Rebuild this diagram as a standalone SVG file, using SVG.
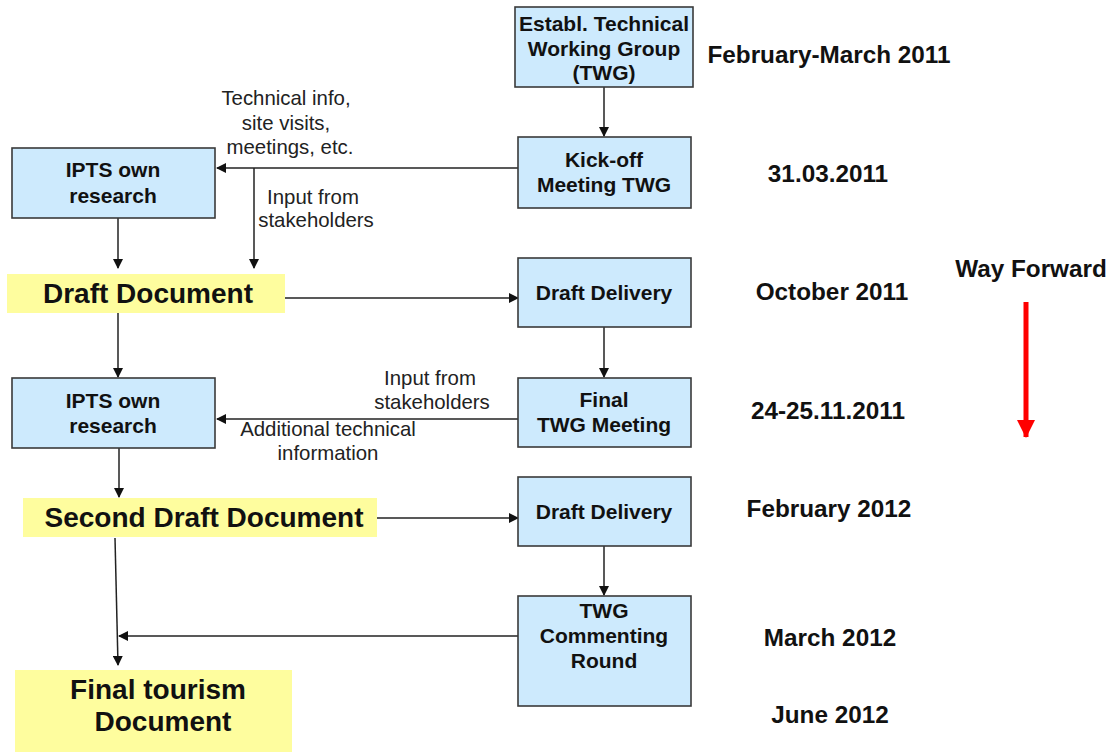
<svg xmlns="http://www.w3.org/2000/svg" width="1115" height="752" viewBox="0 0 1115 752">
  <style>
    .box { fill: #cdeafd; stroke: #3a3a3a; stroke-width: 1.6; }
    .doc { fill: #fefd9e; stroke: none; }
    .bt { font-family: "Liberation Sans", Arial, sans-serif; font-weight: bold; font-size: 21px; fill: #111; text-anchor: middle; }
    .dt { font-family: "Liberation Sans", Arial, sans-serif; font-weight: bold; font-size: 28px; fill: #111; text-anchor: middle; }
    .date { font-family: "Liberation Sans", Arial, sans-serif; font-weight: bold; font-size: 24.3px; fill: #111; text-anchor: middle; }
    .lbl { font-family: "Liberation Sans", Arial, sans-serif; font-size: 20.4px; fill: #222; text-anchor: middle; }
    .conn line { stroke: #222; stroke-width: 1.5; fill: none; }
  </style>
  <defs>
    <marker id="ah" markerWidth="10" markerHeight="10" refX="9" refY="5" orient="auto" markerUnits="userSpaceOnUse">
      <path d="M0,0 L10,5 L0,10 Z" fill="#111"/>
    </marker>
    <marker id="redhead" markerWidth="18" markerHeight="18" refX="17" refY="9" orient="auto" markerUnits="userSpaceOnUse">
      <path d="M0,0 L18,9 L0,18 Z" fill="#ff0000"/>
    </marker>
  </defs>

  <rect width="1115" height="752" fill="#ffffff"/>

  <!-- connectors -->
  <g class="conn" id="connectors">
    <line x1="604" y1="87" x2="604" y2="136" marker-end="url(#ah)"/>
    <line x1="518" y1="168" x2="217" y2="168" marker-end="url(#ah)"/>
    <line x1="254" y1="168" x2="254" y2="268" marker-end="url(#ah)"/>
    <line x1="118" y1="218" x2="118" y2="268" marker-end="url(#ah)"/>
    <line x1="285" y1="298" x2="518" y2="298" marker-end="url(#ah)"/>
    <line x1="604" y1="327" x2="604" y2="377" marker-end="url(#ah)"/>
    <line x1="118" y1="313" x2="118" y2="377" marker-end="url(#ah)"/>
    <line x1="518" y1="419" x2="217" y2="419" marker-end="url(#ah)"/>
    <line x1="119" y1="448" x2="119" y2="497" marker-end="url(#ah)"/>
    <line x1="377" y1="518" x2="518" y2="518" marker-end="url(#ah)"/>
    <line x1="604" y1="546" x2="604" y2="595" marker-end="url(#ah)"/>
    <line x1="518" y1="636" x2="119" y2="636" marker-end="url(#ah)"/>
    <line x1="115" y1="538" x2="118" y2="665" marker-end="url(#ah)"/>
  </g>

  <!-- connector labels -->
  <g id="labels">
    <text class="lbl" x="286" y="105">Technical  info,</text>
    <text class="lbl" x="286" y="130">site visits,</text>
    <text class="lbl" x="290" y="154">meetings,  etc.</text>
    <text class="lbl" x="313" y="204">Input  from</text>
    <text class="lbl" x="316" y="227">stakeholders</text>
    <text class="lbl" x="430" y="385">Input  from</text>
    <text class="lbl" x="432" y="409">stakeholders</text>
    <text class="lbl" x="328" y="436">Additional technical</text>
    <text class="lbl" x="328" y="460">information</text>
  </g>

  <!-- process boxes -->
  <g id="establ-twg">
    <rect class="box" x="515" y="7" width="178" height="80"/>
    <text class="bt" x="604" y="31">Establ. Technical</text>
    <text class="bt" x="604" y="56">Working Group</text>
    <text class="bt" x="604" y="80">(TWG)</text>
  </g>
  <g id="kickoff">
    <rect class="box" x="518" y="137" width="173" height="71"/>
    <text class="bt" x="604" y="167">Kick-off</text>
    <text class="bt" x="604" y="192">Meeting TWG</text>
  </g>
  <g id="ipts-1">
    <rect class="box" x="12" y="148" width="203" height="70"/>
    <text class="bt" x="113" y="177">IPTS own</text>
    <text class="bt" x="113" y="203">research</text>
  </g>
  <g id="draft-doc">
    <rect class="doc" x="7" y="274" width="278" height="39"/>
    <text class="dt" x="148" y="303">Draft Document</text>
  </g>
  <g id="draft-delivery-1">
    <rect class="box" x="518" y="258" width="173" height="69"/>
    <text class="bt" x="604" y="300">Draft Delivery</text>
  </g>
  <g id="ipts-2">
    <rect class="box" x="12" y="378" width="203" height="70"/>
    <text class="bt" x="113" y="408">IPTS own</text>
    <text class="bt" x="113" y="433">research</text>
  </g>
  <g id="final-twg">
    <rect class="box" x="518" y="378" width="173" height="69"/>
    <text class="bt" x="604" y="407">Final</text>
    <text class="bt" x="604" y="432">TWG Meeting</text>
  </g>
  <g id="second-draft">
    <rect class="doc" x="23" y="498" width="354" height="39"/>
    <text class="dt" x="204" y="527">Second Draft Document</text>
  </g>
  <g id="draft-delivery-2">
    <rect class="box" x="518" y="477" width="173" height="69"/>
    <text class="bt" x="604" y="519">Draft Delivery</text>
  </g>
  <g id="twg-commenting">
    <rect class="box" x="518" y="596" width="173" height="110"/>
    <text class="bt" x="604" y="618">TWG</text>
    <text class="bt" x="604" y="643">Commenting</text>
    <text class="bt" x="604" y="668">Round</text>
  </g>
  <g id="final-doc">
    <rect class="doc" x="15" y="670" width="277" height="82"/>
    <text class="dt" x="158" y="699">Final tourism</text>
    <text class="dt" x="163" y="731">Document</text>
  </g>

  <!-- timeline -->
  <g id="dates">
    <text class="date" x="829" y="63">February-March 2011</text>
    <text class="date" x="828" y="182">31.03.2011</text>
    <text class="date" x="832" y="300">October 2011</text>
    <text class="date" x="828" y="419">24-25.11.2011</text>
    <text class="date" x="829" y="517">February 2012</text>
    <text class="date" x="830" y="646">March 2012</text>
    <text class="date" x="830" y="723">June 2012</text>
  </g>
  <g id="way-forward">
    <text class="date" x="1031" y="277">Way Forward</text>
    <line x1="1026" y1="302" x2="1026" y2="437" stroke="#ff0000" stroke-width="5" marker-end="url(#redhead)"/>
  </g>
</svg>
